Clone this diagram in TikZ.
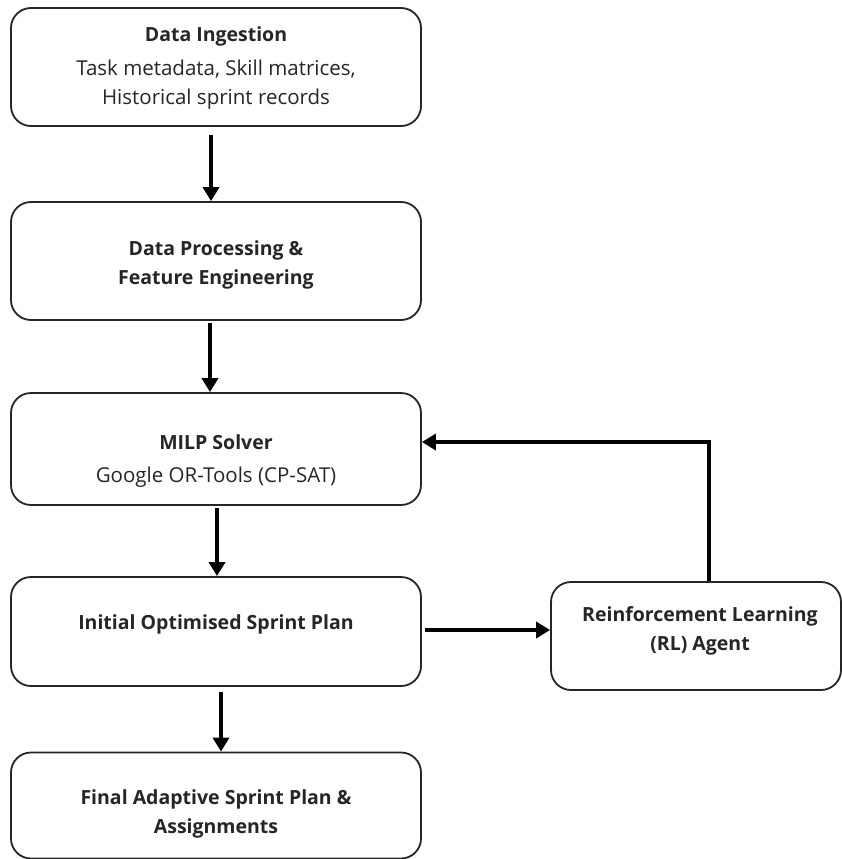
\documentclass[tikz,border=0pt]{standalone}
\usepackage{fontspec}
\setmainfont{Open Sans}
\usetikzlibrary{arrows.meta,calc}
\newcommand{\hd}[1]{{\fontsize{19.5}{29}\selectfont\bfseries #1}}
\begin{document}
\begin{tikzpicture}[x=1pt,y=-1pt,
  stage/.style={draw=black!85,line width=1.8pt,rounded corners=20pt,fill=white,inner sep=0pt},
  txt/.style={align=center,inner sep=0pt,font=\fontsize{20.5}{29}\selectfont,text=black!85},
  flow/.style={line width=3.8pt,-{Triangle[length=14pt,width=16pt]},black}]
\useasboundingbox (0,0) rectangle (841,859);
% stage boxes
\node[stage,minimum width=410pt,minimum height=118pt] (ing) at (216,67) {};
\node[stage,minimum width=410pt,minimum height=118pt] (proc) at (216,261) {};
\node[stage,minimum width=410pt,minimum height=112pt] (milp) at (216,449) {};
\node[stage,minimum width=410pt,minimum height=109pt] (init) at (216,631.5) {};
\node[stage,minimum width=410pt,minimum height=106pt] (final) at (216,805.5) {};
\node[stage,minimum width=290pt,minimum height=108pt] (rl) at (696,636) {};
% stage texts
\node[txt] (ingT) at (216,68) {\hd{Data Ingestion}\\[5pt]Task metadata, Skill matrices,\\Historical sprint records};
\node[txt] (procT) at (216,265) {\hd{Data Processing \&}\\\hd{Feature Engineering}};
\node[txt] (milpT) at (216,461) {\hd{MILP Solver}\\[4pt]Google OR-Tools (CP-SAT)};
\node[txt] (initT) at (216,624.5) {\hd{Initial Optimised Sprint Plan}};
\node[txt] (finalT) at (216,814) {\hd{Final Adaptive Sprint Plan \&}\\\hd{Assignments}};
\node[txt] (rlT) at (700,631) {\hd{Reinforcement Learning}\\\hd{(RL) Agent}};
% connectors
\coordinate (bend) at (709,442);
\draw[flow] (211,135) -- (proc.north -| 211,0);
\draw[flow] (210,323) -- (milp.north -| 210,0);
\draw[flow] (217,508) -- (init.north -| 217,0);
\draw[flow] (221,692) -- (final.north -| 221,0);
\draw[flow] (425,630) -- (rl.west |- 0,630);
\draw[flow] (rl.north -| bend) -- (bend) -- (milp.east |- bend);
\end{tikzpicture}
\end{document}
